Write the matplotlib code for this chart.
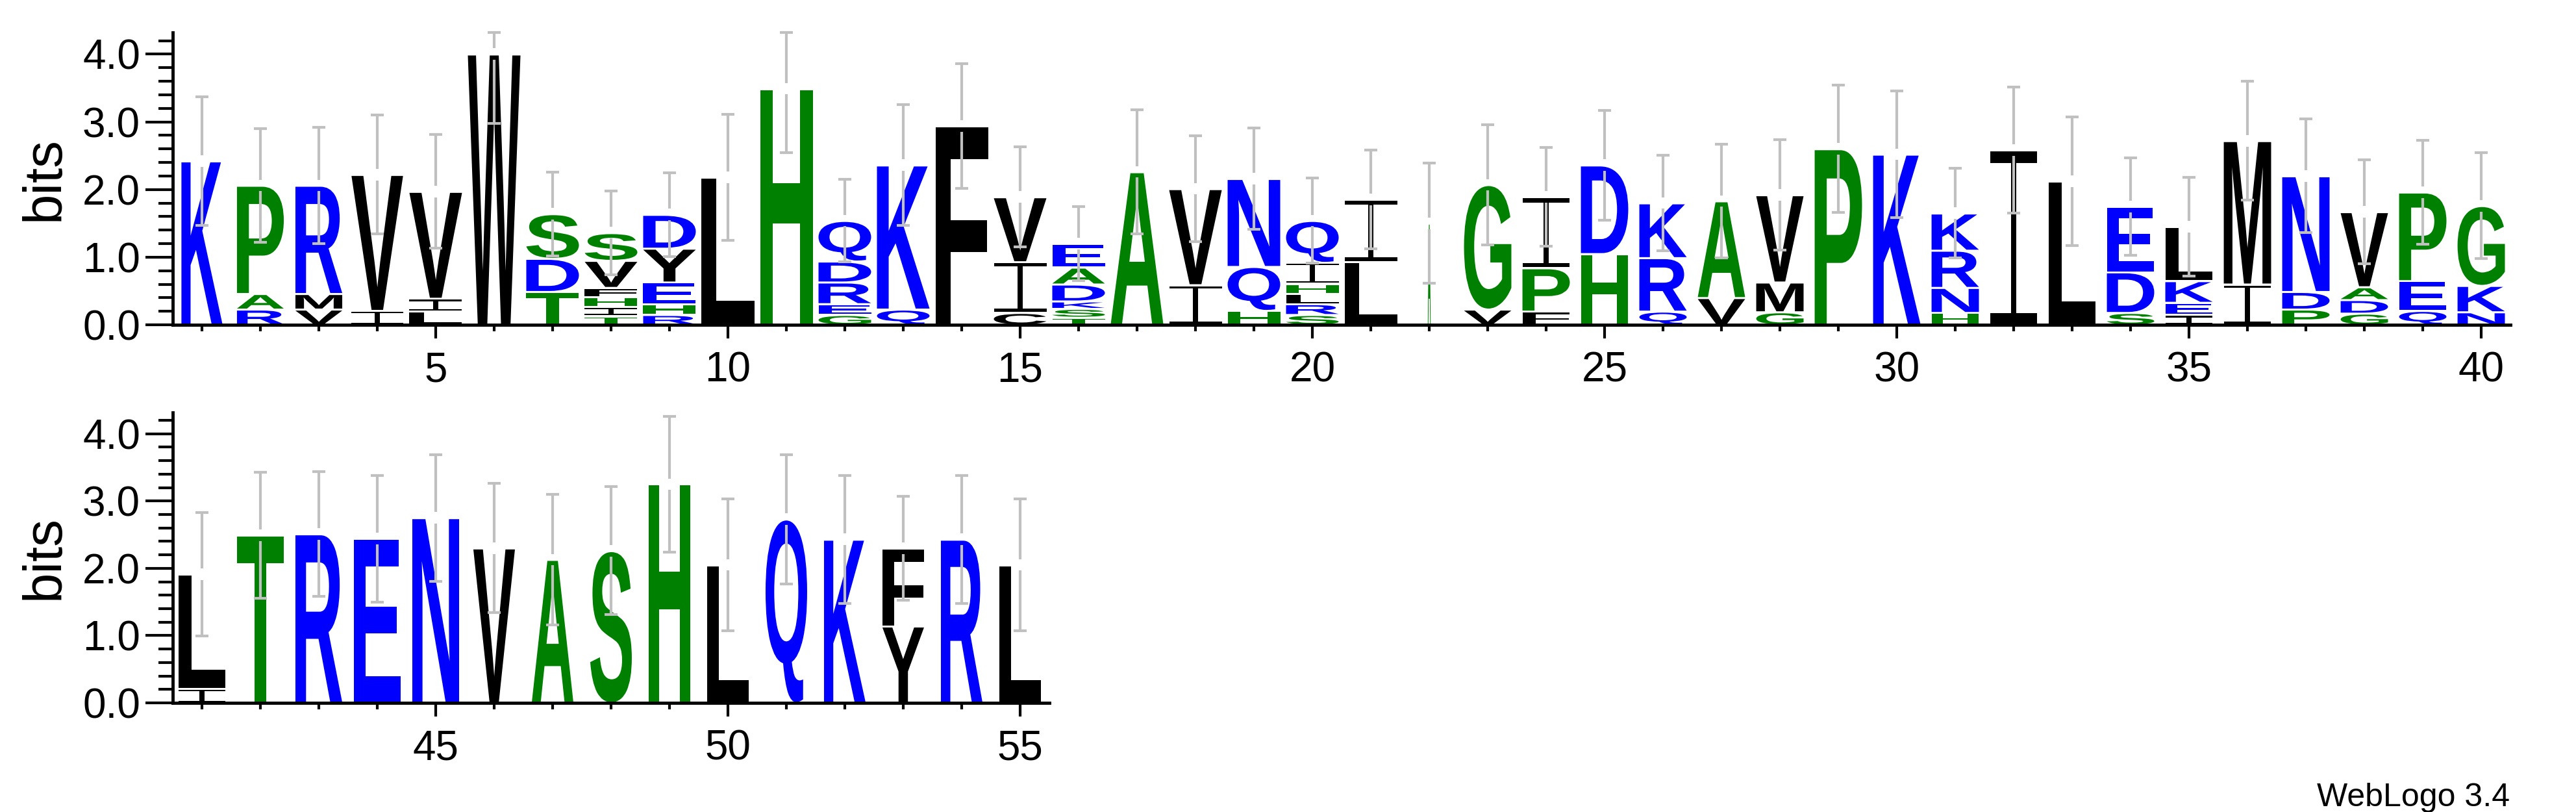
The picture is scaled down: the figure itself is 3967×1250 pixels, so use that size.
import matplotlib
matplotlib.use('Agg')
import matplotlib.pyplot as plt
from matplotlib.path import Path
from matplotlib.patches import PathPatch
from matplotlib.textpath import TextPath
from matplotlib.font_manager import FontProperties
from matplotlib.ticker import MultipleLocator

plt.rcParams['font.family'] = ['Liberation Sans', 'DejaVu Sans']

# Sequence logo data (letters bottom -> top, heights in bits)
positions = list(range(1, 56))
stack_letters = [
    "K", "RAP", "VMR", "IV", "LIV", "W", "TDS", "TIHFVS", "RHEYD", "L",
    "H", "GERDQ", "QK", "F", "CIV", "TSKDAE", "A", "IV", "HQN", "SRLHIQ",
    "LI", "A", "VG", "FPI", "HD", "QRK", "VA", "GMV", "P", "K",
    "HNRK", "I", "L", "SDE", "IEKL", "IM", "PDN", "GDAV", "QEP", "NKG",
    "IL", "T", "R", "E", "N", "V", "A", "S", "H", "L",
    "Q", "K", "YF", "R", "L",
]
stack_heights = [
    [2.42], [0.23, 0.23, 1.60], [0.23, 0.23, 1.60], [0.21, 2.01], [0.20, 0.19, 1.58],
    [4.00], [0.49, 0.49, 0.66], [0.13, 0.14, 0.14, 0.14, 0.40, 0.41],
    [0.15, 0.16, 0.32, 0.50, 0.50], [2.18],
    [3.49], [0.15, 0.16, 0.32, 0.31, 0.60], [0.23, 2.13], [2.94], [0.18, 0.75, 0.96],
    [0.11, 0.13, 0.11, 0.25, 0.25, 0.35], [2.26], [0.59, 1.42], [0.21, 0.65, 1.30],
    [0.15, 0.16, 0.15, 0.15, 0.31, 0.62],
    [0.93, 0.92], [1.50], [0.23, 1.84], [0.20, 0.64, 1.05], [1.05, 1.31],
    [0.20, 0.79, 0.81], [0.40, 1.43], [0.19, 0.44, 1.29], [2.60], [2.52],
    [0.18, 0.37, 0.55, 0.55], [2.58], [2.12], [0.18, 0.60, 0.97], [0.15, 0.18, 0.32, 0.80],
    [0.60, 2.12], [0.23, 0.26, 1.71], [0.17, 0.20, 0.19, 1.11], [0.21, 0.44, 1.31],
    [0.19, 0.39, 1.18],
    [0.21, 1.70], [2.49], [2.51], [2.44], [2.75], [2.30], [2.13], [2.26], [3.25], [2.05],
    [2.73], [2.43], [1.14, 1.16], [2.43], [2.05],
]
# relative stack width (fraction of sequences in column)
stack_widths = [
    0.78, 0.89, 0.89, 0.98, 1.0, 1.0, 1.0, 1.0, 1.0, 1.0,
    1.0, 1.0, 1.0, 1.0, 1.0, 1.0, 1.0, 1.0, 1.0, 1.0,
    1.0, 0.055, 0.9, 0.9, 0.9, 0.9, 0.9, 0.9, 0.9, 0.9,
    0.9, 0.9, 0.9, 0.9, 0.9, 0.9, 0.9, 0.9, 0.9, 0.9,
    0.89, 0.89, 0.89, 0.89, 0.89, 0.79, 0.79, 0.79, 0.79, 0.79,
    0.79, 0.79, 0.79, 0.79, 0.79,
]
error_bars = [
    0.95, 0.84, 0.86, 0.88, 0.84, 1.02, 0.62, 0.62, 0.62, 0.93,
    0.95, 0.61, 0.89, 0.92, 0.74, 0.55, 0.92, 0.78, 0.75, 0.63,
    0.73, 0.89, 0.89, 0.73, 0.81, 0.71, 0.84, 0.82, 0.94, 0.94,
    0.66, 0.93, 0.95, 0.72, 0.73, 0.88, 0.84, 0.77, 0.77, 0.78,
    0.92, 0.94, 0.93, 0.94, 0.94, 0.96, 0.97, 0.95, 1.01, 0.98,
    0.96, 0.95, 0.77, 0.95, 0.98,
]

BLUE = '#0000ff'
GREEN = '#008000'
BLACK = '#000000'
letter_color = {}
for c in "KRDEQN":
    letter_color[c] = BLUE
for c in "PASTHG":
    letter_color[c] = GREEN
for c in "VILWMFYC":
    letter_color[c] = BLACK

YMAX = 4.32
letter_font = FontProperties(family='Liberation Sans', weight='bold')


def glyph(ch, h):
    # returns a path normalised to the unit box
    if ch == 'I':
        tb = max(0.065 * h, 0.02) / h
        tb = min(tb, 0.3)
        v = [(0, 0), (1, 0), (1, tb), (0.555, tb), (0.555, 1 - tb), (1, 1 - tb),
             (1, 1), (0, 1), (0, 1 - tb), (0.445, 1 - tb), (0.445, tb), (0, tb), (0, 0)]
        codes = [Path.MOVETO] + [Path.LINETO] * 11 + [Path.CLOSEPOLY]
        return Path(v, codes)
    tp = TextPath((0, 0), ch, size=1, prop=letter_font)
    ext = tp.get_extents()
    verts = tp.vertices.copy()
    verts[:, 0] = (verts[:, 0] - ext.x0) / ext.width
    verts[:, 1] = (verts[:, 1] - ext.y0) / ext.height
    return Path(verts, tp.codes)


def draw_letter(ax, ch, xc, y0, w, h):
    p = glyph(ch, h)
    verts = p.vertices.copy()
    verts[:, 0] = verts[:, 0] * w + xc - w / 2
    verts[:, 1] = verts[:, 1] * h + y0
    ax.add_patch(PathPatch(Path(verts, p.codes), facecolor=letter_color[ch],
                           edgecolor='none', lw=0, zorder=2))


fig = plt.figure(figsize=(39.67, 12.5), dpi=100)

rows = [
    (1, 40, [0.06705, 0.6, 0.9075, 0.36]),
    (41, 55, [0.06705, 0.1344, 0.3403, 0.358]),
]

for first, last, rect in rows:
    ax = fig.add_axes(rect)
    ax.set_xlim(first - 0.5, last + 0.5)
    ax.set_ylim(0, YMAX)

    for i in range(first - 1, last):
        x = positions[i]
        w = 0.9 * stack_widths[i]
        base = 0.0
        for ch, hb in zip(stack_letters[i], stack_heights[i]):
            draw_letter(ax, ch, x, base + 0.01, w, hb - 0.03)
            base += hb
        # error bar centred on the stack top, with a small gap
        e = error_bars[i]
        top = min(base + e, YMAX)
        bot = base - e
        gap = 0.085
        ax.vlines(x, base + gap, top, colors='#c0c0c0', lw=3, zorder=3, clip_on=False)
        ax.vlines(x, bot, base - gap, colors='#c0c0c0', lw=3, zorder=3, clip_on=False)
        ax.hlines([top, bot], x - 0.11, x + 0.11, colors='#c0c0c0', lw=3,
                  zorder=3, clip_on=False)

    for s in ['top', 'right']:
        ax.spines[s].set_visible(False)
    ax.spines['left'].set_linewidth(3.5)
    ax.spines['bottom'].set_linewidth(3.5)
    ax.spines['left'].set_bounds(0, YMAX)

    ax.yaxis.set_major_locator(MultipleLocator(1.0))
    ax.yaxis.set_minor_locator(MultipleLocator(0.2))
    ax.set_yticks([0, 1, 2, 3, 4])
    ax.set_yticklabels(['0.0', '1.0', '2.0', '3.0', '4.0'])
    ax.tick_params(axis='y', which='major', length=30, width=3, pad=6, labelsize=46)
    ax.tick_params(axis='y', which='minor', length=16, width=3)

    xt = [p for p in positions[first - 1:last] if p % 5 == 0]
    ax.set_xticks(xt)
    ax.set_xticklabels([str(p) for p in xt])
    ax.set_xticks(positions[first - 1:last], minor=True)
    ax.tick_params(axis='x', which='major', length=15, width=3, pad=14, labelsize=46)
    ax.tick_params(axis='x', which='minor', length=7, width=3)

    cy = rect[1] + rect[3] / 2
    fig.text(69 / 3967, cy, 'bits', rotation=90, ha='center', va='center', fontsize=60)

fig.text(3865 / 3967, 0.0075, 'WebLogo 3.4', ha='right', va='baseline', fontsize=36)

fig.savefig('out.png', dpi=100, facecolor='white')
